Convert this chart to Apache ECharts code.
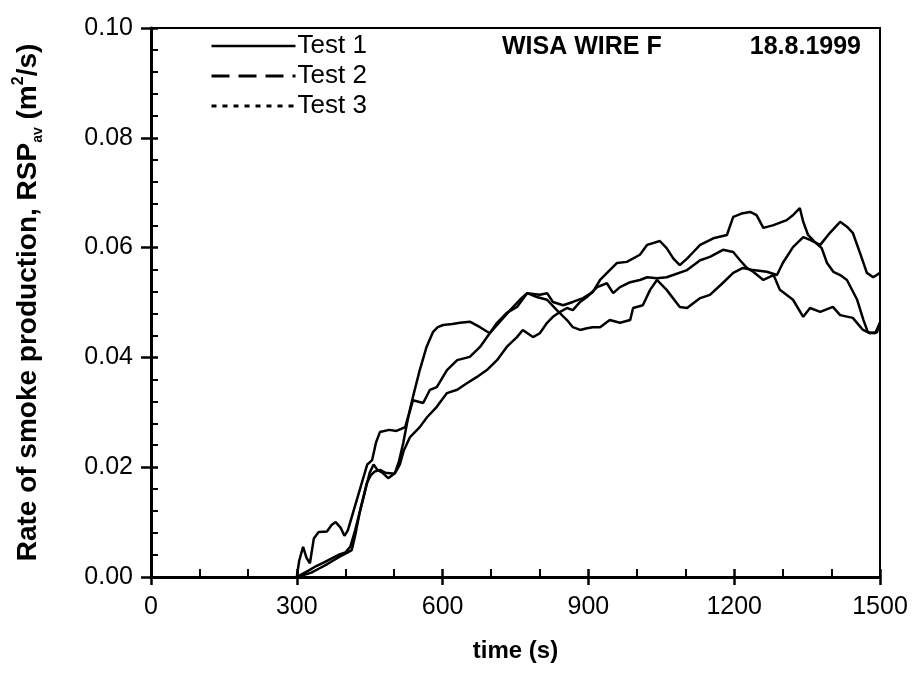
<!DOCTYPE html>
<html>
<head>
    <meta charset="utf-8">
    <title>WISA WIRE F smoke production</title>
    <script src="https://cdn.jsdelivr.net/npm/echarts@6/dist/echarts.min.js"></script>
    <style type="text/css">
        html, body { margin: 0; padding: 0; background: #fff; }
        #main { width: 915px; height: 696px; }
    </style>
</head>
<body>
    <div id="main"></div>
    <script type="text/javascript">
        // time (s) and RSP_av (m2/s)
        var time1 = [300,305,313,320,327,335,345,362,372,380,390,398,405,415,425,435,445,455,463,471,490,505,523,530,539,553,567,580,590,601,620,636,656,677,697,718,739,759,774,800,815,827,848,868,889,909,924,944,959,979,1006,1021,1047,1061,1075,1088,1103,1116,1130,1157,1185,1198,1215,1233,1246,1260,1281,1308,1322,1335,1342,1352,1366,1380,1391,1404,1418,1432,1453,1466,1475,1490,1500];
        var rsp1 = [0,0.003,0.0055,0.0035,0.0025,0.007,0.0082,0.0083,0.0095,0.0100,0.0090,0.0075,0.0085,0.0115,0.0145,0.0175,0.0205,0.0213,0.0245,0.0264,0.0268,0.0266,0.0273,0.0295,0.0328,0.0377,0.0419,0.0446,0.0455,0.0459,0.0461,0.0463,0.0465,0.0455,0.0444,0.0465,0.0486,0.0505,0.0517,0.0514,0.0517,0.0501,0.0495,0.0501,0.0508,0.0519,0.0541,0.0559,0.0572,0.0574,0.0587,0.0605,0.0612,0.0599,0.0580,0.0568,0.0580,0.0592,0.0605,0.0617,0.0623,0.0656,0.0662,0.0665,0.0659,0.0636,0.0641,0.0650,0.0660,0.0672,0.0647,0.0623,0.0610,0.0599,0.0572,0.0556,0.0550,0.0541,0.0505,0.0468,0.0446,0.0444,0.0463];

        var time2 = [300,310,325,340,355,370,385,400,410,420,430,440,450,458,466,476,488,502,510,519,529,539,560,574,588,609,630,656,677,697,712,732,753,774,794,815,835,856,868,883,897,909,924,944,965,986,992,1012,1027,1041,1061,1088,1103,1130,1150,1177,1198,1218,1239,1267,1288,1300,1321,1342,1356,1377,1397,1418,1432,1444,1459,1473,1486,1500];
        var rsp2 = [0,0.0005,0.0012,0.002,0.0026,0.0033,0.004,0.0045,0.0055,0.0085,0.012,0.0155,0.019,0.0205,0.0195,0.019,0.018,0.0189,0.021,0.0244,0.029,0.0322,0.0317,0.0341,0.0346,0.0377,0.0395,0.0401,0.0419,0.0444,0.0463,0.0481,0.0492,0.0517,0.0510,0.0505,0.0486,0.0468,0.0455,0.0450,0.0453,0.0455,0.0455,0.0468,0.0463,0.0468,0.0490,0.0495,0.0523,0.0541,0.0523,0.0492,0.0490,0.0508,0.0514,0.0536,0.0554,0.0563,0.0559,0.0556,0.0550,0.0572,0.0601,0.0619,0.0614,0.0605,0.0627,0.0647,0.0638,0.0627,0.0590,0.0554,0.0546,0.0554];

        var time3 = [300,312,330,345,360,375,390,405,413,420,430,437,444,452,460,471,482,492,500,506,512,520,533,553,568,588,609,630,650,670,691,712,732,753,765,786,800,815,827,842,856,868,883,897,918,938,951,965,986,1006,1021,1041,1061,1103,1130,1150,1177,1198,1212,1226,1239,1260,1281,1294,1321,1342,1356,1377,1403,1418,1444,1465,1479,1494,1500];
        var rsp3 = [0,0.0003,0.0008,0.0015,0.0022,0.003,0.0038,0.0045,0.0049,0.0075,0.012,0.0145,0.0171,0.0185,0.0192,0.0195,0.019,0.0189,0.0188,0.0195,0.0205,0.023,0.0255,0.0273,0.0291,0.0310,0.0335,0.0341,0.0353,0.0364,0.0377,0.0395,0.0419,0.0437,0.0450,0.0437,0.0444,0.0463,0.0474,0.0483,0.0490,0.0486,0.0501,0.0510,0.0528,0.0535,0.0517,0.0528,0.0537,0.0541,0.0546,0.0544,0.0546,0.0559,0.0577,0.0583,0.0596,0.0592,0.0577,0.0563,0.0556,0.0541,0.0550,0.0523,0.0505,0.0474,0.0490,0.0483,0.0492,0.0477,0.0472,0.0450,0.0444,0.0446,0.0464];

        var testNames = ['Test 1', 'Test 2', 'Test 3'];

        var pairs = function (t, v) {
            var res = [];
            for (var i = 0; i < t.length; i++) {
                res.push([t[i], v[i]]);
            }
            return res;
        };

        var font = '"Liberation Sans", Arial, sans-serif';
        var myChart = echarts.init(document.getElementById('main'));

        var lineSeries = function (name, t, v) {
            return {
                name: name,
                type: 'line',
                xAxisIndex: 0,
                yAxisIndex: 0,
                symbol: 'none',
                animation: false,
                data: pairs(t, v),
                lineStyle: { color: '#000', width: 2.5 }
            };
        };

        option = {
            backgroundColor: '#fff',
            title: [
                { text: 'WISA WIRE F', left: 497, top: 30,
                  textStyle: { fontFamily: font, fontSize: 25, fontWeight: 'bold', color: '#000' } },
                { text: '18.8.1999', right: 49, top: 30,
                  textStyle: { fontFamily: font, fontSize: 25, fontWeight: 'bold', color: '#000' } }
            ],
            legend: {
                orient: 'vertical',
                left: 205,
                top: 28,
                itemWidth: 84,
                itemHeight: 14,
                itemGap: 4,
                selectedMode: false,
                itemStyle: { color: 'transparent', borderWidth: 0 },
                textStyle: { fontFamily: font, fontSize: 26, color: '#000', padding: [0, 0, 0, -3] },
                data: [
                    { name: testNames[0], lineStyle: { color: '#000', width: 2.5, type: 'solid' } },
                    { name: testNames[1], lineStyle: { color: '#000', width: 3, type: [18, 9] } },
                    { name: testNames[2], lineStyle: { color: '#000', width: 3, type: [5, 6] } }
                ]
            },
            grid: {
                left: 151,
                right: 35,
                top: 28,
                bottom: 119,
                show: true,
                borderColor: '#000',
                borderWidth: 2
            },
            xAxis: [{
                type: 'value',
                min: 0,
                max: 1500,
                interval: 300,
                position: 'bottom',
                name: 'time (s)',
                nameLocation: 'middle',
                nameGap: 62,
                nameTextStyle: { fontFamily: font, fontSize: 24, fontWeight: 'bold', color: '#000' },
                axisLine: { lineStyle: { color: '#000', width: 3 } },
                axisTick: { inside: true, length: 8, lineStyle: { color: '#000', width: 2.5 } },
                minorTick: { show: true, splitNumber: 3, length: 8, lineStyle: { color: '#000', width: 2 } },
                axisLabel: {
                    margin: 18, fontFamily: font, fontSize: 25, color: '#000',
                    formatter: function (v) { return String(v); }
                },
                splitLine: { show: false }
            }, {
                type: 'value',
                min: 0,
                max: 1500,
                interval: 300,
                position: 'bottom',
                axisLine: { show: false },
                axisTick: { inside: false, length: 8, lineStyle: { color: '#000', width: 2.5 } },
                axisLabel: { show: false },
                splitLine: { show: false }
            }],
            yAxis: [{
                type: 'value',
                min: 0,
                max: 0.1,
                interval: 0.02,
                position: 'left',
                name: '{b|Rate of smoke production, RSP}{sub|av}{b| (m}{sup|2}{b|/s)}',
                nameLocation: 'middle',
                nameGap: 106,
                nameTextStyle: {
                    fontFamily: font, fontSize: 28, fontWeight: 'bold', color: '#000',
                    rich: {
                        b: { fontFamily: font, fontSize: 28, fontWeight: 'bold', color: '#000', lineHeight: 34 },
                        sub: { fontFamily: font, fontSize: 14, fontWeight: 'bold', color: '#000', lineHeight: 14, verticalAlign: 'bottom' },
                        sup: { fontFamily: font, fontSize: 16, fontWeight: 'bold', color: '#000', lineHeight: 16, verticalAlign: 'top' }
                    }
                },
                axisLine: { lineStyle: { color: '#000', width: 3 } },
                axisTick: { inside: true, length: 7, lineStyle: { color: '#000', width: 2.5 } },
                minorTick: { show: true, splitNumber: 5, length: 7, lineStyle: { color: '#000', width: 2 } },
                axisLabel: {
                    margin: 18,
                    fontFamily: font, fontSize: 25, color: '#000',
                    formatter: function (v) { return v.toFixed(2); }
                },
                splitLine: { show: false }
            }, {
                type: 'value',
                min: 0,
                max: 0.1,
                interval: 0.02,
                position: 'left',
                axisLine: { show: false },
                axisTick: { inside: false, length: 10, lineStyle: { color: '#000', width: 2.5 } },
                axisLabel: { show: false },
                splitLine: { show: false }
            }],
            series: [
                lineSeries(testNames[0], time1, rsp1),
                lineSeries(testNames[1], time2, rsp2),
                lineSeries(testNames[2], time3, rsp3)
            ]
        };
        myChart.setOption(option);
    </script>
</body>
</html>
